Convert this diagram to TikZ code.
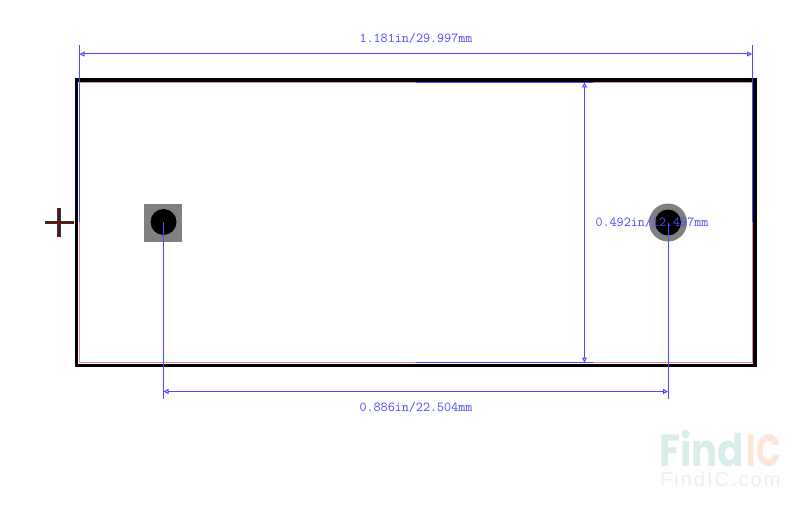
\documentclass[tikz,border=0pt]{standalone}
\usepackage{fontspec}
\usetikzlibrary{arrows.meta}
\newfontfamily\logofont{Poppins}
\newfontfamily\urlfont[LetterSpace=10]{Liberation Sans}
\definecolor{dimblue}{HTML}{4A4AFF}
\definecolor{silkpink}{HTML}{E88C9C}
\definecolor{padgray}{HTML}{808080}
\definecolor{logoteal}{HTML}{D9EEEA}
\definecolor{logoorange}{HTML}{FBE6D8}
\definecolor{logogray}{HTML}{EEEEEE}
\tikzset{
    dimline/.style={draw=dimblue, line width=1pt},
    dimarrow/.style={dimline, {Triangle[open, length=5pt, width=5pt]}-{Triangle[open, length=5pt, width=5pt]}},
    dimtext/.style={text=dimblue, font=\fontsize{13.7}{14}\selectfont\ttfamily, inner sep=0pt},
    hole/.style={circle, fill=black, minimum size=26pt, inner sep=0pt},
    logotext/.style={inner sep=0pt, font=\logofont\bfseries\fontsize{45}{45}\selectfont},
}
\begin{document}
\begin{tikzpicture}[x=1pt, y=-1pt]
        \useasboundingbox (0, 0) rectangle (800, 505);
        %板框
        \draw[silkpink, line width=1.5pt] (79.5, 82.7) rectangle (752.5, 362.7);
        \draw[line width=3.6pt, line join=miter] (76.5, 80) rectangle (755, 365.5);
        %十字
        \coordinate (crossL) at (45, 222.5);
        \coordinate (crossR) at (74, 222.5);
        \coordinate (crossT) at (59, 208);
        \coordinate (crossB) at (59, 237);
        \draw[black!80, line width=3.4pt] (crossL) -- (crossR) (crossT) -- (crossB);
        \draw[red!50!black, line width=1pt] (crossL) -- (crossR) (crossT) -- (crossB);
        %焊盘
        \node[rectangle, fill=padgray, minimum size=38pt, inner sep=0pt] (padA) at (163, 223) {};
        \node[hole] (holeA) at (163.5, 222) {};
        \node[circle, fill=padgray, minimum size=38pt, inner sep=0pt] (padB) at (668, 222.5) {};
        \node[hole] (holeB) at (668, 222.5) {};
        %尺寸线
        \coordinate (topL) at (79.5, 45);
        \coordinate (topR) at (752, 45);
        \coordinate (midL) at (79.5, 222);
        \coordinate (midR) at (752, 222);
        \coordinate (dimTopL) at (79.5, 54);
        \coordinate (dimTopR) at (752, 54);
        \coordinate (extA) at (163.5, 399);
        \coordinate (extB) at (668, 399);
        \coordinate (dimBotL) at (163.5, 391.5);
        \coordinate (dimBotR) at (668, 391.5);
        \coordinate (edgeTL) at (416, 82.5);
        \coordinate (edgeTR) at (593, 82.5);
        \coordinate (edgeBL) at (416, 362.5);
        \coordinate (edgeBR) at (593, 362.5);
        \coordinate (dimMidT) at (584.5, 82.5);
        \coordinate (dimMidB) at (584.5, 362.5);
        \draw[dimline] (topL) -- (midL);
        \draw[dimline] (topR) -- (midR);
        \draw[dimline] (edgeTL) -- (edgeTR);
        \draw[dimline] (edgeBL) -- (edgeBR);
        \draw[dimline] (holeA.center) -- (extA);
        \draw[dimline] (holeB.center) -- (extB);
        \draw[dimarrow] (dimTopL) -- (dimTopR);
        \draw[dimarrow] (dimBotL) -- (dimBotR);
        \draw[dimarrow] (dimMidT) -- (dimMidB);
        \node[dimtext] (lenLabel) at (416, 38) {1.181in/29.997mm};
        \node[dimtext] (widLabel) at (652, 222.5) {0.492in/12.497mm};
        \node[dimtext] (pitchLabel) at (416, 407) {0.886in/22.504mm};
        %水印
        \node[logotext, anchor=base west, text=logoteal, xscale=.86] (logoFind) at (659, 466) {Find};
        \node[logotext, anchor=base east, text=logoorange, xscale=.72] (logoIC) at (781, 466) {IC};
        \node[anchor=base west, inner sep=0pt, text=logogray, font=\urlfont\fontsize{20}{20}\selectfont] (logoUrl) at (660, 486) {FindIC.com};
    \end{tikzpicture}
\end{document}
